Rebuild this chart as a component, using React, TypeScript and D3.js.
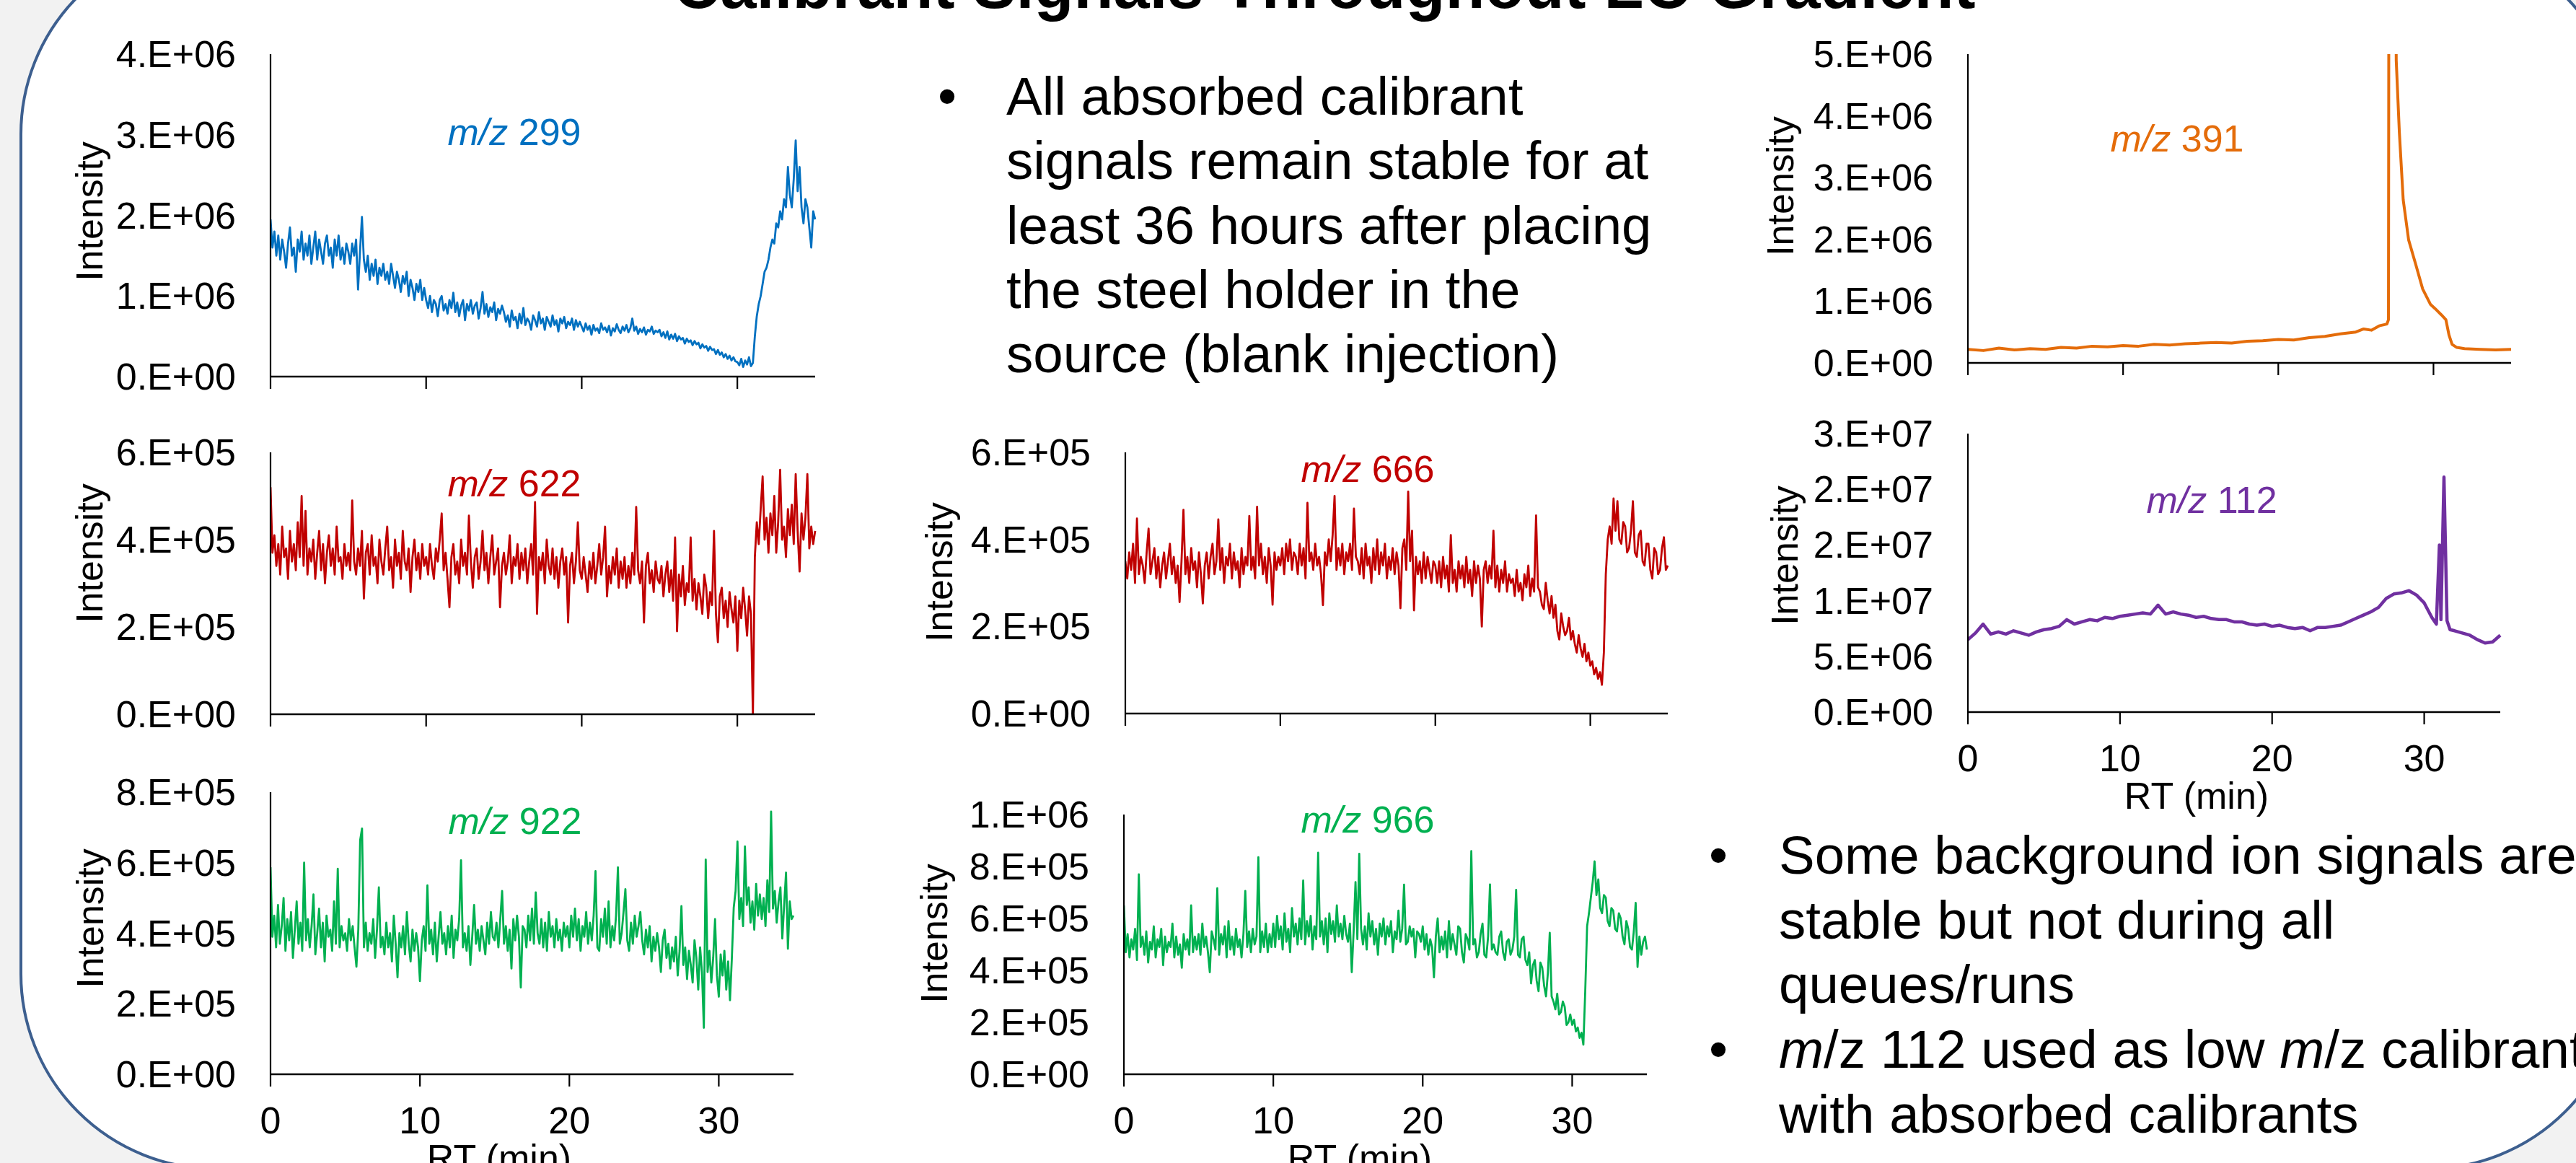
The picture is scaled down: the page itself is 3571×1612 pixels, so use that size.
import React from 'react';
import * as d3 from 'd3';

const W = 3571;
const H = 1612;
const FONT = "'Liberation Sans', Arial, Helvetica, sans-serif";

// noisy traces are kept in 5-min blocks of evenly spaced readings
const blockMin = 5;
const rtTicks = [0, 10, 20, 30];
const rtMax = 35;

// m/z 299, intensity x1e6
const mz299 = [
  [1.95, 1.60, 1.80, 1.50, 1.75, 1.45, 1.70, 1.55, 1.35, 1.65, 1.85, 1.50, 1.60, 1.30, 1.70, 1.55, 1.80, 1.45, 1.65, 1.50,
   1.75, 1.40, 1.60, 1.80, 1.45, 1.70, 1.55, 1.40, 1.65, 1.75, 1.50, 1.60, 1.35, 1.70, 1.50, 1.75, 1.45, 1.60, 1.40, 1.65],
  [1.55, 1.40, 1.65, 1.50, 1.70, 1.08, 1.55, 1.98, 1.45, 1.30, 1.50, 1.20, 1.40, 1.25, 1.45, 1.15, 1.35, 1.25, 1.40, 1.20,
   1.30, 1.15, 1.40, 1.25, 1.10, 1.30, 1.20, 1.05, 1.25, 1.15, 1.30, 1.00, 1.20, 1.10, 0.95, 1.15, 1.05, 1.20, 0.95, 1.10],
  [0.95, 0.85, 1.00, 0.80, 0.95, 0.90, 0.75, 0.95, 1.00, 0.82, 0.90, 0.78, 0.95, 0.85, 1.04, 0.80, 0.92, 0.75, 0.88, 0.95,
   0.70, 0.90, 0.82, 0.95, 0.78, 0.88, 0.92, 0.72, 0.85, 1.05, 0.78, 0.90, 0.74, 0.86, 0.80, 0.92, 0.70, 0.84, 0.78, 0.88],
  [0.80, 0.68, 0.76, 0.62, 0.82, 0.70, 0.74, 0.60, 0.78, 0.66, 0.85, 0.64, 0.72, 0.68, 0.58, 0.76, 0.70, 0.62, 0.80, 0.66,
   0.72, 0.58, 0.74, 0.68, 0.62, 0.76, 0.64, 0.70, 0.56, 0.72, 0.66, 0.74, 0.60, 0.68, 0.64, 0.72, 0.58, 0.70, 0.62, 0.68],
  [0.62, 0.56, 0.66, 0.58, 0.63, 0.52, 0.64, 0.57, 0.60, 0.54, 0.66, 0.58, 0.61, 0.55, 0.63, 0.51, 0.60, 0.56, 0.65, 0.58,
   0.54, 0.62, 0.57, 0.64, 0.55, 0.60, 0.72, 0.57, 0.62, 0.53, 0.59, 0.55, 0.61, 0.52, 0.58, 0.56, 0.62, 0.53, 0.57, 0.55],
  [0.58, 0.50, 0.55, 0.48, 0.56, 0.46, 0.52, 0.47, 0.53, 0.44, 0.50, 0.46, 0.48, 0.41, 0.47, 0.43, 0.45, 0.39, 0.44, 0.40,
   0.42, 0.35, 0.40, 0.36, 0.38, 0.32, 0.37, 0.33, 0.34, 0.28, 0.33, 0.27, 0.30, 0.24, 0.28, 0.22, 0.26, 0.20, 0.24, 0.19],
  [0.18, 0.14, 0.22, 0.12, 0.20, 0.15, 0.24, 0.13, 0.17, 0.50, 0.75, 0.90, 1.00, 1.15, 1.30, 1.35, 1.45, 1.60, 1.70, 1.65,
   1.90, 1.85, 2.05, 1.95, 2.20, 2.10, 2.60, 2.25, 2.10, 2.45, 2.93, 2.30, 2.60, 2.10, 1.90, 2.20, 2.10, 1.85, 1.60, 2.05],
  [1.95]
];

// m/z 622, x1e5
const mz622 = [
  [5.20, 3.70, 4.10, 3.40, 3.90, 3.20, 4.30, 3.60, 3.80, 3.10, 4.20, 3.50, 3.90, 3.30, 4.40, 3.60, 5.00, 3.40, 4.66, 3.20,
   3.80, 3.50, 4.00, 3.10, 3.70, 4.20, 3.30, 3.90, 3.00, 3.70, 4.10, 3.40, 3.80, 3.20, 4.30, 3.50, 3.60, 3.10, 3.90, 3.40],
  [3.70, 3.30, 4.90, 3.50, 3.20, 3.80, 3.40, 4.20, 2.65, 3.70, 3.90, 3.20, 4.10, 3.40, 3.60, 3.00, 4.00, 3.50, 3.20, 3.80,
   4.30, 3.30, 3.60, 2.90, 4.00, 3.40, 3.70, 3.10, 4.20, 3.50, 3.30, 3.80, 2.80, 3.60, 4.00, 3.30, 3.70, 3.10, 3.90, 3.40],
  [3.60, 3.20, 3.90, 3.40, 3.10, 3.80, 3.50, 4.00, 4.60, 3.30, 3.70, 3.10, 2.45, 3.60, 3.90, 3.20, 3.50, 3.00, 4.00, 3.40,
   3.70, 3.20, 4.55, 3.50, 2.90, 3.60, 3.80, 3.10, 3.50, 4.20, 3.30, 3.70, 3.00, 3.60, 4.10, 3.20, 3.50, 3.80, 2.45, 3.40],
  [3.70, 3.20, 3.50, 4.10, 3.00, 3.60, 3.40, 3.90, 3.10, 3.70, 3.30, 3.80, 3.00, 3.50, 3.90, 3.20, 4.86, 2.30, 3.60, 3.30,
   3.70, 3.00, 4.00, 3.40, 3.20, 3.80, 3.10, 3.60, 2.90, 3.50, 3.80, 3.20, 3.60, 2.10, 3.40, 3.70, 3.00, 3.50, 4.40, 3.30],
  [3.10, 3.60, 3.20, 2.80, 3.50, 3.10, 3.70, 3.00, 3.40, 3.90, 3.20, 3.60, 4.30, 2.70, 3.40, 3.00, 3.60, 3.20, 3.80, 2.90,
   3.50, 3.10, 3.60, 2.90, 3.40, 3.00, 3.70, 3.20, 4.75, 3.30, 3.00, 3.50, 2.10, 3.40, 3.70, 3.00, 3.30, 2.80, 3.50, 3.10],
  [3.00, 3.40, 2.70, 3.20, 3.50, 2.80, 3.30, 2.60, 4.05, 1.90, 3.20, 2.70, 3.40, 2.50, 3.00, 2.80, 4.05, 2.60, 3.10, 2.40,
   3.00, 2.70, 2.30, 3.20, 2.90, 2.20, 2.80, 2.50, 4.20, 2.30, 1.65, 2.70, 2.90, 2.20, 2.60, 2.00, 2.80, 2.40, 2.10, 2.70],
  [1.45, 2.60, 2.20, 2.90, 2.40, 1.80, 2.70, 2.30, 0.00, 3.60, 4.40, 3.90, 4.70, 5.45, 4.00, 4.50, 3.70, 4.60, 4.10, 5.00,
   3.70, 4.40, 5.60, 4.00, 4.30, 3.60, 4.70, 4.10, 4.80, 3.90, 5.50, 4.20, 3.27, 4.60, 4.00, 4.50, 5.50, 3.80, 4.30, 3.90],
  [4.20]
];

// m/z 922, x1e5
const mz922 = [
  [5.87, 3.90, 4.50, 3.60, 4.80, 3.70, 4.20, 5.00, 3.50, 4.40, 3.80, 4.60, 3.30, 4.10, 4.90, 3.70, 4.30, 3.50, 6.00, 3.80,
   4.40, 3.60, 4.20, 5.10, 3.40, 4.00, 4.70, 3.60, 4.30, 3.20, 4.50, 3.90, 4.10, 3.50, 4.90, 3.70, 5.83, 3.60, 4.20, 3.80],
  [4.00, 3.50, 4.40, 3.80, 4.20, 3.60, 3.05, 4.10, 6.64, 6.97, 3.60, 4.30, 3.50, 4.00, 3.70, 4.40, 3.30, 4.10, 5.30, 3.60,
   3.90, 3.40, 4.30, 3.60, 4.00, 3.20, 4.50, 3.70, 2.75, 4.00, 3.60, 4.20, 3.40, 4.60, 3.70, 3.20, 4.10, 3.50, 4.00, 3.60],
  [2.64, 3.80, 4.20, 3.50, 5.36, 3.70, 4.10, 3.40, 4.30, 3.20, 3.90, 4.60, 3.70, 4.00, 3.40, 4.20, 3.60, 4.50, 3.30, 4.10,
   3.80, 4.40, 6.07, 3.60, 4.00, 3.50, 4.20, 3.10, 3.90, 4.80, 3.70, 4.10, 3.50, 4.20, 3.80, 3.40, 4.30, 3.70, 4.60, 3.90],
  [3.80, 4.30, 3.60, 4.40, 5.20, 3.70, 4.20, 3.50, 4.10, 3.00, 4.40, 3.80, 4.50, 3.90, 2.46, 4.20, 4.10, 3.60, 4.50, 3.80,
   4.70, 3.70, 5.16, 4.00, 3.70, 4.40, 3.60, 4.30, 3.50, 4.60, 3.90, 4.20, 3.60, 4.40, 3.80, 4.10, 3.50, 4.30, 3.90, 4.20],
  [3.60, 4.50, 3.90, 4.70, 3.80, 4.40, 3.50, 4.20, 3.90, 4.60, 3.70, 4.30, 3.80, 4.50, 5.76, 3.60, 3.50, 4.40, 3.90, 4.70,
   3.70, 4.90, 3.60, 4.20, 3.80, 4.50, 5.87, 3.70, 4.00, 4.60, 5.25, 3.80, 3.50, 4.30, 3.70, 4.50, 3.90, 4.20, 4.60, 3.80],
  [3.40, 4.10, 3.60, 4.20, 3.20, 3.90, 3.50, 4.00, 3.60, 2.90, 3.80, 4.10, 3.30, 3.70, 3.00, 3.60, 3.20, 3.90, 2.80, 3.50,
   4.77, 3.10, 3.60, 2.70, 3.50, 3.10, 2.60, 3.80, 3.30, 2.40, 3.60, 2.90, 1.32, 6.09, 2.90, 3.50, 2.60, 3.30, 4.40, 2.80],
  [2.20, 3.40, 2.80, 3.50, 2.40, 3.20, 2.10, 3.30, 4.73, 5.20, 6.60, 4.40, 5.00, 4.20, 6.46, 4.80, 5.30, 4.30, 4.90, 4.10,
   5.40, 4.50, 5.10, 4.40, 5.00, 4.20, 5.50, 4.60, 7.45, 4.70, 5.20, 4.30, 4.90, 5.30, 3.85, 4.80, 5.72, 3.56, 4.90, 4.40],
  [4.50]
];

// m/z 666, x1e5
const mz666 = [
  [3.50, 3.10, 3.70, 3.30, 3.90, 3.00, 4.48, 3.20, 3.60, 3.40, 3.00, 3.70, 4.25, 3.20, 3.50, 3.80, 3.10, 3.60, 2.90, 3.40,
   3.70, 3.10, 3.50, 3.90, 3.20, 3.60, 3.00, 3.40, 2.56, 3.50, 4.68, 3.20, 3.60, 3.00, 3.80, 3.30, 3.50, 2.90, 3.70, 3.20],
  [2.53, 3.40, 3.70, 3.10, 3.60, 3.90, 3.20, 3.50, 4.46, 3.30, 3.80, 3.00, 3.60, 3.40, 3.90, 3.10, 3.70, 3.30, 3.50, 2.90,
   3.80, 3.20, 3.60, 3.40, 4.54, 3.30, 3.60, 3.10, 4.75, 3.40, 3.90, 3.20, 3.60, 3.00, 3.80, 3.40, 2.50, 3.70, 3.30, 3.60],
  [3.40, 3.80, 3.20, 3.90, 3.50, 4.00, 3.30, 3.70, 3.60, 3.20, 3.90, 3.40, 3.80, 3.10, 4.84, 3.50, 3.70, 3.30, 3.90, 3.40,
   3.60, 3.20, 2.49, 3.70, 3.40, 4.00, 3.50, 4.10, 5.00, 3.30, 3.80, 3.40, 3.90, 3.20, 3.70, 3.50, 3.90, 3.30, 4.71, 3.60],
  [3.50, 3.20, 3.80, 3.10, 3.90, 3.40, 3.60, 3.00, 3.80, 3.30, 4.00, 3.20, 3.70, 3.40, 3.90, 3.10, 3.60, 3.30, 3.80, 3.20,
   3.70, 3.40, 2.42, 3.80, 4.00, 3.30, 5.10, 3.50, 4.20, 2.37, 3.60, 3.20, 3.50, 3.00, 3.70, 3.10, 3.60, 3.30, 3.00, 3.50],
  [3.40, 3.00, 3.50, 2.90, 3.60, 3.10, 3.40, 2.80, 4.10, 3.00, 3.30, 2.80, 3.50, 3.10, 3.40, 2.90, 3.60, 3.00, 3.30, 2.70,
   3.50, 3.00, 3.40, 3.10, 2.00, 3.30, 3.50, 3.00, 3.40, 3.10, 4.20, 2.90, 3.40, 2.80, 3.30, 3.00, 3.50, 2.80, 3.20, 3.00],
  [3.10, 2.70, 3.30, 2.80, 3.00, 2.60, 3.20, 2.90, 3.40, 2.70, 3.10, 2.80, 4.55, 2.90, 2.80, 2.50, 2.40, 3.00, 2.60, 2.30,
   2.70, 2.20, 2.50, 1.90, 1.70, 2.30, 2.00, 1.80, 1.90, 2.20, 1.70, 1.90, 1.60, 1.40, 1.80, 1.50, 1.30, 1.60, 1.20, 1.40],
  [1.10, 1.20, 0.90, 1.05, 0.80, 0.95, 0.66, 1.40, 3.20, 4.00, 4.30, 3.90, 4.94, 4.20, 4.88, 4.00, 3.90, 4.40, 4.30, 3.70,
   3.80, 4.20, 4.88, 3.70, 3.60, 4.10, 4.20, 3.50, 3.40, 3.90, 3.90, 3.30, 3.10, 3.80, 3.70, 3.20, 3.30, 3.80, 4.05, 3.30],
  [3.40]
];

// m/z 966, x1e5
const mz966 = [
  [6.50, 4.70, 5.40, 4.50, 5.20, 4.80, 5.60, 4.40, 7.70, 4.90, 5.30, 4.60, 5.50, 4.30, 5.10, 4.80, 5.70, 4.50, 5.20, 4.90,
   5.60, 4.20, 5.30, 4.70, 5.10, 4.90, 5.80, 4.50, 5.30, 4.60, 5.00, 4.10, 5.40, 4.80, 5.20, 4.60, 6.50, 4.70, 5.30, 4.80],
  [5.40, 4.60, 5.80, 4.90, 5.30, 4.70, 3.93, 5.50, 5.20, 4.80, 7.16, 4.60, 5.40, 5.00, 5.70, 4.50, 5.90, 4.80, 5.30, 4.60,
   5.60, 4.90, 5.20, 4.50, 5.40, 7.06, 4.90, 5.50, 4.70, 5.60, 5.00, 5.30, 8.36, 4.70, 5.50, 4.90, 5.80, 4.70, 5.40, 4.90],
  [5.80, 4.90, 6.10, 5.20, 5.70, 4.80, 6.20, 5.10, 5.60, 4.70, 6.40, 5.30, 5.80, 5.00, 6.00, 5.20, 7.46, 5.00, 5.90, 5.30,
   6.10, 4.80, 5.70, 5.20, 8.53, 5.30, 5.90, 5.00, 6.00, 4.70, 6.20, 5.40, 5.90, 5.10, 6.50, 5.30, 5.80, 5.20, 6.10, 5.40],
  [5.10, 5.80, 3.93, 5.50, 7.40, 5.20, 8.49, 5.60, 5.00, 5.70, 4.80, 6.20, 5.30, 5.90, 5.00, 5.60, 4.60, 5.80, 5.30, 6.00,
   5.00, 5.70, 5.30, 5.90, 4.70, 5.50, 5.20, 6.30, 5.10, 5.60, 7.30, 5.00, 5.10, 5.70, 5.30, 5.60, 4.50, 5.50, 5.40, 5.10],
  [5.70, 4.80, 5.40, 4.60, 5.20, 4.90, 3.73, 5.30, 6.00, 4.70, 5.30, 4.80, 5.50, 4.50, 5.90, 4.80, 5.40, 5.00, 4.60, 5.70,
   5.60, 4.70, 4.30, 5.40, 5.20, 4.80, 8.59, 5.00, 5.20, 4.50, 4.70, 5.40, 5.80, 4.60, 4.50, 5.30, 7.31, 4.80, 5.00, 4.70],
  [4.60, 5.30, 5.50, 4.70, 4.40, 5.10, 5.20, 4.60, 4.80, 5.30, 7.10, 4.60, 4.50, 5.20, 5.30, 4.40, 4.20, 4.70, 3.50, 4.20,
   4.40, 3.60, 3.20, 4.30, 4.10, 3.40, 3.00, 3.90, 5.45, 3.00, 2.80, 2.50, 3.10, 2.30, 2.40, 2.80, 2.60, 1.90, 2.00, 2.30],
  [1.90, 2.10, 1.65, 1.80, 1.40, 1.60, 1.14, 3.20, 5.70, 6.20, 6.80, 7.40, 8.20, 6.90, 7.50, 6.40, 6.20, 6.90, 6.80, 5.90,
   5.70, 6.40, 6.30, 5.60, 5.50, 6.20, 6.00, 5.30, 5.00, 5.90, 5.60, 4.90, 4.80, 5.50, 6.60, 4.13, 5.30, 4.60, 5.10, 5.30],
  [4.80]
];

// m/z 391, x1e6 (uneven RT around the peak)
const rt391 = [
  0, 1, 2, 3, 4, 5, 6, 7, 8, 9, 10, 11, 12, 13, 14, 15, 16, 17, 18, 19, 20, 21, 22, 23, 24, 25, 25.5, 26, 26.5, 27,
  27.1, 27.15, 27.5, 27.6, 27.8, 28.05, 28.4, 28.85, 29.3, 29.8, 30.1, 30.5, 30.8, 31.0, 31.2, 31.5, 32, 33, 34, 35
];
const mz391 = [
  0.22, 0.20, 0.24, 0.21, 0.23, 0.22, 0.25, 0.24, 0.27, 0.26, 0.28, 0.27, 0.30, 0.29, 0.31, 0.32, 0.33, 0.32, 0.35, 0.36,
  0.38, 0.37, 0.41, 0.43, 0.47, 0.50, 0.55, 0.53, 0.60, 0.63,
  0.70, 12.0, 12.0, 4.90, 3.74, 2.64, 1.99, 1.60, 1.20, 0.95, 0.88, 0.78, 0.70, 0.45, 0.30, 0.25, 0.23, 0.22, 0.21, 0.22
];

// m/z 112, x1e6 (uneven RT around the spikes)
const rt112 = [
  0, 0.5, 1, 1.5, 2, 2.5, 3, 3.5, 4, 4.5, 5, 5.5, 6, 6.5, 7, 7.5, 8, 8.5, 9, 9.5,
  10, 10.5, 11, 11.5, 12, 12.5, 13, 13.5, 14, 14.5, 15, 15.5, 16, 16.5, 17, 17.5, 18, 18.5, 19, 19.5,
  20, 20.5, 21, 21.5, 22, 22.5, 23, 23.5, 24, 24.5, 25, 25.5, 26, 26.5, 27, 27.5, 28, 28.5, 29, 29.5,
  30, 30.5, 30.8, 31.0, 31.1, 31.3, 31.5, 31.7, 32, 32.5, 33, 33.5, 34, 34.5, 35
];
const mz112 = [
  6.5, 7.1, 7.9, 7.0, 7.2, 7.0, 7.3, 7.1, 6.9, 7.2, 7.4, 7.5, 7.7, 8.3, 7.9, 8.1, 8.3, 8.2, 8.5, 8.4,
  8.6, 8.7, 8.8, 8.9, 8.8, 9.6, 8.8, 9.0, 8.8, 8.7, 8.5, 8.6, 8.4, 8.3, 8.3, 8.1, 8.1, 7.9, 7.8, 7.9,
  7.7, 7.8, 7.6, 7.5, 7.6, 7.3, 7.6, 7.6, 7.7, 7.8, 8.1, 8.4, 8.7, 9.0, 9.4, 10.2, 10.6, 10.7, 10.9, 10.5,
  9.8, 8.5, 7.9, 15.0, 8.3, 21.1, 8.2, 7.4, 7.3, 7.1, 6.9, 6.5, 6.2, 6.3, 6.9
];

// y tick values per panel
const yTicks299 = [0, 1e6, 2e6, 3e6, 4e6];
const yTicks622 = [0, 2e5, 4e5, 6e5];
const yTicks922 = [0, 2e5, 4e5, 6e5, 8e5];
const yTicks666 = [0, 2e5, 4e5, 6e5];
const yTicks966 = [0, 2e5, 4e5, 6e5, 8e5, 1e6];
const yTicks391 = [0, 1e6, 2e6, 3e6, 4e6, 5e6];
const yTicks112 = [0, 5e6, 1e7, 1.5e7, 2e7, 2.5e7];

const bulletTop = [
  'All absorbed calibrant',
  'signals remain stable for at',
  'least 36 hours after placing',
  'the steel holder in the',
  'source (blank injection)'
];

// Excel style "0.E+00"
function fmtE(v: number) {
  const [m, e] = v.toExponential(0).split('e');
  const n = Math.abs(+e);
  return `${m}.E${+e < 0 ? '-' : '+'}${String(n).padStart(2, '0')}`;
}

// [rt, value] pairs from 5-min blocks
function fromBlocks(blocks: number[][]): [number, number][] {
  const out: [number, number][] = [];
  blocks.forEach((b, k) => {
    b.forEach((v, j) => out.push([k * blockMin + j * blockMin / b.length, v]));
  });
  return out;
}
function fromPairs(rt: number[], v: number[]): [number, number][] {
  return v.map((d, i) => [rt[i], d]);
}

const panels = [
  {id: 'p299', name: '299', color: '#0070C0', pts: fromBlocks(mz299), unit: 1e6, ticks: yTicks299, sw: 2.8,
    x0: 375, x1: 1130, yTop: 75, yBot: 522, labelX: 713, labelY: 201, intX: 142, intY: 293, showX: false, rtLabelX: 0},
  {id: 'p622', name: '622', color: '#C00000', pts: fromBlocks(mz622), unit: 1e5, ticks: yTicks622, sw: 2.8,
    x0: 375, x1: 1130, yTop: 627, yBot: 990, labelX: 713, labelY: 688, intX: 142, intY: 767, showX: false, rtLabelX: 0},
  {id: 'p922', name: '922', color: '#00B050', pts: fromBlocks(mz922), unit: 1e5, ticks: yTicks922, sw: 2.8,
    x0: 375, x1: 1100, yTop: 1098, yBot: 1489, labelX: 714, labelY: 1156, intX: 143, intY: 1273, showX: true, rtLabelX: 692},
  {id: 'p666', name: '666', color: '#C00000', pts: fromBlocks(mz666), unit: 1e5, ticks: yTicks666, sw: 2.8,
    x0: 1560, x1: 2312, yTop: 627, yBot: 989, labelX: 1896, labelY: 668, intX: 1320, intY: 793, showX: false, rtLabelX: 0},
  {id: 'p966', name: '966', color: '#00B050', pts: fromBlocks(mz966), unit: 1e5, ticks: yTicks966, sw: 2.8,
    x0: 1558, x1: 2283, yTop: 1129, yBot: 1489, labelX: 1896, labelY: 1154, intX: 1313, intY: 1294, showX: true, rtLabelX: 1885},
  {id: 'p391', name: '391', color: '#E46C0A', pts: fromPairs(rt391, mz391), unit: 1e6, ticks: yTicks391, sw: 4,
    x0: 2728, x1: 3481, yTop: 75, yBot: 503, labelX: 3018, labelY: 210, intX: 2486, intY: 258, showX: false, rtLabelX: 0},
  {id: 'p112', name: '112', color: '#7030A0', pts: fromPairs(rt112, mz112), unit: 1e6, ticks: yTicks112, sw: 4.5,
    x0: 2728, x1: 3466, yTop: 601, yBot: 987, labelX: 3066, labelY: 711, intX: 2492, intY: 770, showX: true, rtLabelX: 3045}
];

function Chart({p}: {p: typeof panels[number]}) {
  const x = d3.scaleLinear().domain([0, rtMax]).range([p.x0, p.x1]);
  const y = d3.scaleLinear().domain([0, p.ticks[p.ticks.length - 1]]).range([p.yBot, p.yTop]);
  const line = d3.line<[number, number]>()
    .x(d => x(d[0]))
    .y(d => y(d[1] * p.unit));

  return (
    <g>
      <defs>
        <clipPath id={'clip-' + p.id}>
          <rect x={p.x0} y={p.yTop} width={p.x1 - p.x0 + 4} height={p.yBot - p.yTop}/>
        </clipPath>
      </defs>
      {/* y tick labels */}
      {p.ticks.map(t => (
        <text key={t} x={p.x0 - 48} y={y(t)} textAnchor="end" dominantBaseline="central"
              fontSize={52} fill="#000">{fmtE(t)}</text>
      ))}
      <text transform={`translate(${p.intX},${p.intY}) rotate(-90)`} textAnchor="middle"
            fontSize={52} fill="#000">Intensity</text>
      {/* trace */}
      <path d={line(p.pts) || ''} fill="none" stroke={p.color} strokeWidth={p.sw}
            strokeLinejoin="round" clipPath={`url(#clip-${p.id})`}/>
      {/* axes */}
      <line x1={p.x0} x2={p.x0} y1={p.yTop} y2={p.yBot} stroke="#000" strokeWidth={2.2}/>
      <line x1={p.x0 - 1} x2={p.x1} y1={p.yBot} y2={p.yBot} stroke="#000" strokeWidth={2.6}/>
      {rtTicks.map(t => (
        <line key={t} x1={x(t)} x2={x(t)} y1={p.yBot} y2={p.yBot + 17} stroke="#000" strokeWidth={2.2}/>
      ))}
      {p.showX && rtTicks.map(t => (
        <text key={'l' + t} x={x(t)} y={p.yBot + 64} textAnchor="middle" dominantBaseline="central"
              fontSize={52} fill="#000">{t}</text>
      ))}
      {p.showX && (
        <text x={p.rtLabelX} y={p.yBot + 116} textAnchor="middle" dominantBaseline="central"
              fontSize={52} fill="#000">RT (min)</text>
      )}
      <text x={p.labelX} y={p.labelY} textAnchor="middle" fontSize={52} fill={p.color}>
        <tspan fontStyle="italic">m/z</tspan> {p.name}
      </text>
    </g>
  );
}

export default function App() {
  return (
    <div style={{position: 'absolute', left: 0, top: 0, width: W, height: H, overflow: 'hidden'}}>
      <svg width={W} height={H} style={{display: 'block', fontFamily: FONT}}>
        <rect x={0} y={0} width={W} height={H} fill="#F2F2F2"/>
        <rect x={29} y={-84} width={3606} height={1704} rx={270} ry={270}
              fill="#FFFFFF" stroke="#3D5F8F" strokeWidth={4}/>
        <text x={1836} y={11} textAnchor="middle" fontSize={90} fontWeight="bold" fill="#000">
          Calibrant Signals Throughout LC Gradient
        </text>

        {panels.map(p => <Chart key={p.id} p={p}/>)}

        {/* upper bullet */}
        <text x={1300} y={159} fontSize={74.5} fill="#000">•</text>
        <text fontSize={74.5} fill="#000">
          {bulletTop.map((s, i) => (
            <tspan key={i} x={1395} y={159 + i * 89.3}>{s}</tspan>
          ))}
        </text>

        {/* lower bullets */}
        <text x={2369} y={1211} fontSize={74.5} fill="#000">•</text>
        <text fontSize={74.5} fill="#000">
          <tspan x={2466} y={1211}>Some background ion signals are</tspan>
          <tspan x={2466} y={1301}>stable but not during all</tspan>
          <tspan x={2466} y={1390}>queues/runs</tspan>
        </text>
        <text x={2369} y={1480} fontSize={74.5} fill="#000">•</text>
        <text fontSize={74.5} fill="#000">
          <tspan x={2466} y={1480}><tspan fontStyle="italic">m</tspan>/z 112 used as low <tspan fontStyle="italic">m</tspan>/z calibrant</tspan>
          <tspan x={2466} y={1570}>with absorbed calibrants</tspan>
        </text>
      </svg>
    </div>
  );
}
